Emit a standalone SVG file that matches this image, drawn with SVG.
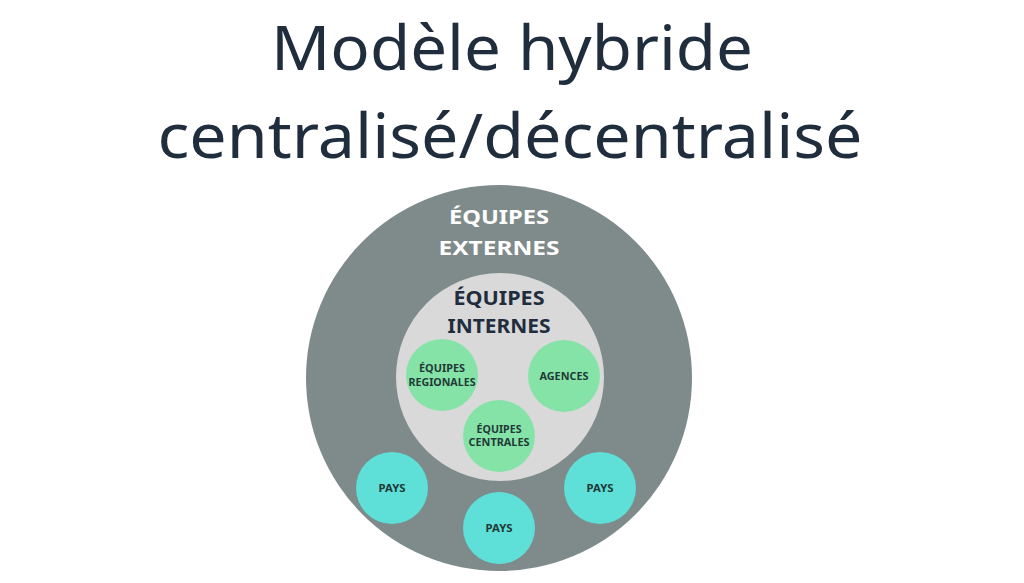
<svg xmlns="http://www.w3.org/2000/svg" width="1024" height="583" viewBox="0 0 1024 583">
<style>
.title{font-family:"Noto Sans","Open Sans",sans-serif;font-size:62px;fill:#1f2d3d;text-anchor:middle}
.big{font-family:"Noto Sans","Open Sans",sans-serif;font-weight:bold;font-size:20px;text-anchor:middle}
.small{font-family:"Noto Sans","Open Sans",sans-serif;font-weight:bold;font-size:10px;fill:#1f3a36;text-anchor:middle}
.green{fill:#86e3a8}
.cyan{fill:#5edfd8}
</style>
<rect width="1024" height="583" fill="#ffffff"/>
<g id="title">
<text class="title" x="512" y="70" textLength="482" lengthAdjust="spacingAndGlyphs">Modèle hybride</text>
<text class="title" x="510" y="158" textLength="705" lengthAdjust="spacingAndGlyphs">centralisé/décentralisé</text>
</g>
<g id="connectors"></g>
<g id="externes">
<circle cx="499" cy="378" r="193" fill="#7f8b8b"/>
<text class="big" x="499" y="224" fill="#ffffff" textLength="100" lengthAdjust="spacingAndGlyphs">ÉQUIPES</text>
<text class="big" x="499" y="255" fill="#ffffff" textLength="121" lengthAdjust="spacingAndGlyphs">EXTERNES</text>
</g>
<g id="internes">
<circle cx="500" cy="377" r="104" fill="#d9d9d9"/>
<text class="big" x="499" y="305" fill="#1f2d3d" textLength="91" lengthAdjust="spacingAndGlyphs">ÉQUIPES</text>
<text class="big" x="499" y="333" fill="#1f2d3d" textLength="103" lengthAdjust="spacingAndGlyphs">INTERNES</text>
</g>
<g id="regionales">
<circle class="green" cx="442" cy="375" r="36"/>
<text class="small" x="442" y="372" textLength="46" lengthAdjust="spacingAndGlyphs">ÉQUIPES</text>
<text class="small" x="442" y="386" textLength="67" lengthAdjust="spacingAndGlyphs">REGIONALES</text>
</g>
<g id="agences">
<circle class="green" cx="564" cy="376" r="36"/>
<text class="small" x="564" y="380" textLength="49" lengthAdjust="spacingAndGlyphs">AGENCES</text>
</g>
<g id="centrales">
<circle class="green" cx="499" cy="436" r="36"/>
<text class="small" x="499" y="433" textLength="45" lengthAdjust="spacingAndGlyphs">ÉQUIPES</text>
<text class="small" x="499" y="446" textLength="61" lengthAdjust="spacingAndGlyphs">CENTRALES</text>
</g>
<g id="pays1">
<circle class="cyan" cx="392" cy="488" r="36"/>
<text class="small" x="392" y="492" textLength="27" lengthAdjust="spacingAndGlyphs">PAYS</text>
</g>
<g id="pays2">
<circle class="cyan" cx="499" cy="528" r="36"/>
<text class="small" x="499" y="532" textLength="27" lengthAdjust="spacingAndGlyphs">PAYS</text>
</g>
<g id="pays3">
<circle class="cyan" cx="600" cy="488" r="36"/>
<text class="small" x="600" y="492" textLength="27" lengthAdjust="spacingAndGlyphs">PAYS</text>
</g>
</svg>
